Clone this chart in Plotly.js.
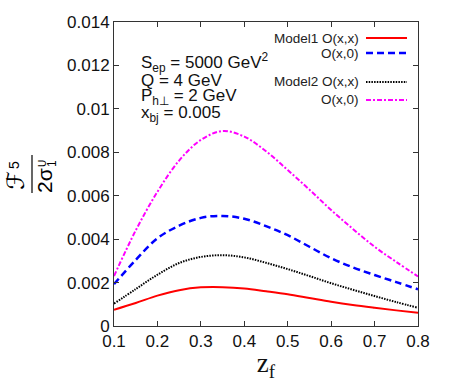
<!DOCTYPE html>
<html>
<head>
<meta charset="utf-8">
<script src="https://cdn.plot.ly/plotly-3.0.1.min.js"></script>
<style>html,body{margin:0;padding:0;background:#fff;}#chart{width:450px;height:382px;}</style>
</head>
<body>
<div id="chart"></div>
<script>
// ---- data ----
const zf = [0.10, 0.15, 0.20, 0.25, 0.30, 0.35, 0.40, 0.45, 0.50, 0.55, 0.60, 0.65, 0.70, 0.75, 0.80];
const model1_xx = [0.00075, 0.00106, 0.00140, 0.00165, 0.00178, 0.00179, 0.00173, 0.00160, 0.00146, 0.00129, 0.00112, 0.00097, 0.00084, 0.00072, 0.00061];
const model1_x0 = [0.00193, 0.00304, 0.00404, 0.00462, 0.00498, 0.00507, 0.00494, 0.00460, 0.00418, 0.00365, 0.00312, 0.00270, 0.00235, 0.00202, 0.00169];
const model2_xx = [0.00103, 0.00170, 0.00236, 0.00290, 0.00318, 0.00326, 0.00316, 0.00291, 0.00262, 0.00230, 0.00197, 0.00167, 0.00138, 0.00110, 0.00084];
const model2_x0 = [0.00230, 0.00440, 0.00618, 0.00762, 0.00857, 0.00898, 0.00872, 0.00805, 0.00718, 0.00628, 0.00534, 0.00447, 0.00365, 0.00295, 0.00228];
const legendModels = ["Model1 O(x,x)", "O(x,0)", "Model2 O(x,x)", "O(x,0)"];
const xTickVals = [0.1, 0.2, 0.3, 0.4, 0.5, 0.6, 0.7, 0.8];
const xTickText = ["0.1", "0.2", "0.3", "0.4", "0.5", "0.6", "0.7", "0.8"];
const yTickVals = [0, 0.002, 0.004, 0.006, 0.008, 0.010, 0.012, 0.014];
const yTickText = ["0", "0.002", "0.004", "0.006", "0.008", "0.01", "0.012", "0.014"];
const paramLines = ["S<sub>ep</sub> = 5000 GeV<sup>2</sup>", "Q = 4 GeV", "P<sub>h⊥</sub> = 2 GeV", "x<sub>bj</sub> = 0.005"];

// ---- geometry helpers (plot area in pixels) ----
const L = 114, R = 418, T = 22, B = 326;
const px = v => (v - L) / (R - L);
const py = v => (B - v) / (B - T);

const styles = [
  {color: '#ff0000', width: 2, dash: 'solid'},
  {color: '#0000ff', width: 2.5, dash: '7px,4px'},
  {color: '#000000', width: 2, dash: '1.5px,1.2px'},
  {color: '#ff00ff', width: 2, dash: '5px,2px,2px,2px'}
];
const series = [model1_xx, model1_x0, model2_xx, model2_x0];

const traces = series.map((s, i) => ({
  x: zf, y: s, type: 'scatter', mode: 'lines',
  line: {color: styles[i].color, width: styles[i].width, dash: styles[i].dash, shape: 'spline', smoothing: 1},
  name: legendModels[i], showlegend: false, hoverinfo: 'skip'
}));

const font = 'Liberation Sans, Arial, Helvetica, sans-serif';
const annotations = [];
const shapes = [];

// legend (gnuplot style: label right-aligned, sample to the right)
const legY = [38, 53, 82, 100];
legendModels.forEach((t, i) => {
  annotations.push({xref: 'paper', yref: 'paper', x: px(361), y: py(legY[i]), xanchor: 'right', yanchor: 'middle',
    text: t, showarrow: false, font: {family: font, size: 13.5, color: '#222'}});
  shapes.push({type: 'line', xref: 'paper', yref: 'paper', x0: px(366), x1: px(407), y0: py(legY[i]), y1: py(legY[i]),
    line: {color: styles[i].color, width: styles[i].width, dash: styles[i].dash}});
});

// parameter text
const parY = [63, 80, 97, 114];
paramLines.forEach((t, i) => {
  annotations.push({xref: 'paper', yref: 'paper', x: px(139), y: py(parY[i]), xanchor: 'left', yanchor: 'middle',
    text: t, showarrow: false, font: {family: font, size: 17, color: '#111'}});
});

// y-axis title as a fraction
annotations.push({xref: 'paper', yref: 'paper', x: px(16), y: py(181), xanchor: 'center', yanchor: 'middle', textangle: -90,
  text: 'ℱ', showarrow: false, font: {family: 'DejaVu Serif, DejaVu Sans, serif', size: 24, color: '#000'}});
annotations.push({xref: 'paper', yref: 'paper', x: px(14), y: py(165), xanchor: 'center', yanchor: 'middle', textangle: -90,
  text: '5', showarrow: false, font: {family: font, size: 14, color: '#000'}});
shapes.push({type: 'line', xref: 'paper', yref: 'paper', x0: px(32), x1: px(32), y0: py(155), y1: py(193), line: {color: '#000', width: 1.2}});
annotations.push({xref: 'paper', yref: 'paper', x: px(44), y: py(181), xanchor: 'center', yanchor: 'middle', textangle: -90,
  text: '2σ', showarrow: false, font: {family: font, size: 21, color: '#000'}});
annotations.push({xref: 'paper', yref: 'paper', x: px(52), y: py(164), xanchor: 'center', yanchor: 'middle', textangle: -90,
  text: '1', showarrow: false, font: {family: font, size: 12, color: '#000'}});
annotations.push({xref: 'paper', yref: 'paper', x: px(42), y: py(164), xanchor: 'center', yanchor: 'middle', textangle: -90,
  text: 'U', showarrow: false, font: {family: font, size: 10, color: '#000'}});

const layout = {
  width: 450, height: 382,
  margin: {l: L, r: 450 - R, t: T, b: 382 - B, pad: 0},
  paper_bgcolor: '#fff', plot_bgcolor: '#fff',
  showlegend: false,
  xaxis: {
    range: [0.1, 0.8], tickvals: xTickVals, ticktext: xTickText,
    ticks: 'inside', ticklen: 5, tickcolor: '#333', tickwidth: 1,
    showline: true, linecolor: '#333', linewidth: 1, mirror: 'ticks',
    showgrid: false, zeroline: false,
    tickfont: {family: font, size: 17, color: '#111'},
    title: {text: 'z<sub>f</sub>', font: {family: 'Liberation Serif, Times New Roman, serif', size: 27, color: '#111'}, standoff: 4}
  },
  yaxis: {
    range: [0, 0.014], tickvals: yTickVals, ticktext: yTickText,
    ticks: 'inside', ticklen: 5, tickcolor: '#333', tickwidth: 1,
    showline: true, linecolor: '#333', linewidth: 1, mirror: 'ticks',
    showgrid: false, zeroline: false,
    tickfont: {family: font, size: 17, color: '#111'}
  },
  annotations: annotations,
  shapes: shapes
};

Plotly.newPlot('chart', traces, layout, {displayModeBar: false, staticPlot: true});
</script>
</body>
</html>
